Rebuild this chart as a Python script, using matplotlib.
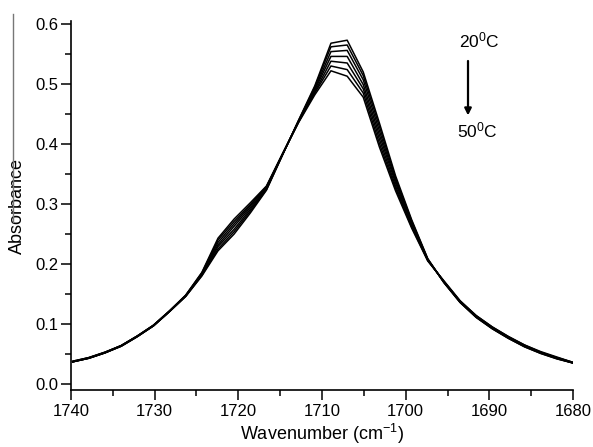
import numpy as np
import matplotlib
matplotlib.use('Agg')
import matplotlib.pyplot as plt
from matplotlib.lines import Line2D
from matplotlib.ticker import MultipleLocator

plt.rcParams['font.family'] = 'Liberation Sans'
plt.rcParams['mathtext.fontset'] = 'custom'
plt.rcParams['mathtext.rm'] = 'Liberation Sans'
plt.rcParams['mathtext.it'] = 'Liberation Sans'

# wavenumber grid (cm-1), ascending
wn = [1680.0, 1681.93, 1683.86, 1685.79, 1687.71, 1689.64, 1691.57, 1693.5,
      1695.43, 1697.36, 1699.29, 1701.21, 1703.14, 1705.07, 1706.99, 1708.93,
      1710.86, 1712.79, 1714.71, 1716.64, 1718.57, 1720.5, 1722.43, 1724.36,
      1726.29, 1728.21, 1730.14, 1732.07, 1734.0, 1735.93, 1737.86, 1739.79]

# absorbance spectra, 20 -> 50 C
t20 = [0.035, 0.042, 0.051, 0.062, 0.076, 0.092, 0.111, 0.136, 0.169, 0.209, 0.274, 0.347, 0.435, 0.520, 0.573, 0.568,
       0.497, 0.440, 0.382, 0.323, 0.285, 0.250, 0.222, 0.180, 0.146, 0.121, 0.097, 0.079, 0.063, 0.052, 0.043, 0.037]
t25 = [0.035, 0.042, 0.051, 0.062, 0.076, 0.092, 0.111, 0.136, 0.169, 0.208, 0.272, 0.343, 0.429, 0.514, 0.565, 0.562,
       0.495, 0.439, 0.382, 0.324, 0.288, 0.254, 0.225, 0.181, 0.146, 0.121, 0.097, 0.079, 0.063, 0.052, 0.043, 0.037]
t30 = [0.035, 0.043, 0.052, 0.063, 0.077, 0.093, 0.112, 0.137, 0.170, 0.208, 0.270, 0.339, 0.422, 0.507, 0.556, 0.554,
       0.492, 0.439, 0.383, 0.325, 0.291, 0.258, 0.229, 0.182, 0.147, 0.121, 0.097, 0.079, 0.063, 0.052, 0.043, 0.037]
t35 = [0.035, 0.043, 0.052, 0.063, 0.077, 0.093, 0.112, 0.137, 0.170, 0.207, 0.267, 0.335, 0.415, 0.499, 0.546, 0.546,
       0.490, 0.438, 0.383, 0.326, 0.294, 0.263, 0.232, 0.183, 0.147, 0.121, 0.097, 0.080, 0.064, 0.052, 0.043, 0.037]
t40 = [0.036, 0.044, 0.053, 0.064, 0.078, 0.094, 0.113, 0.138, 0.171, 0.206, 0.265, 0.330, 0.408, 0.492, 0.535, 0.538,
       0.487, 0.437, 0.383, 0.328, 0.297, 0.267, 0.236, 0.184, 0.147, 0.122, 0.098, 0.080, 0.064, 0.053, 0.044, 0.037]
t45 = [0.036, 0.044, 0.053, 0.065, 0.079, 0.095, 0.114, 0.138, 0.171, 0.206, 0.262, 0.326, 0.401, 0.485, 0.524, 0.530,
       0.485, 0.437, 0.384, 0.329, 0.299, 0.271, 0.240, 0.185, 0.148, 0.122, 0.098, 0.080, 0.064, 0.053, 0.044, 0.038]
t50 = [0.036, 0.045, 0.054, 0.065, 0.079, 0.095, 0.114, 0.139, 0.172, 0.205, 0.260, 0.322, 0.395, 0.478, 0.513, 0.522,
       0.482, 0.436, 0.384, 0.330, 0.302, 0.275, 0.243, 0.186, 0.148, 0.122, 0.098, 0.080, 0.064, 0.053, 0.044, 0.038]

spectra = [t20, t25, t30, t35, t40, t45, t50]

fig = plt.figure(figsize=(5.93, 4.47), dpi=100)
ax = fig.add_axes([0.1197, 0.1275, 0.8466, 0.8255])

for s in spectra:
    ax.plot(wn, s, color='black', lw=1.1)

ax.set_xlim(1740, 1680)
ax.set_ylim(-0.01, 0.605)
ax.xaxis.set_major_locator(MultipleLocator(10))
ax.xaxis.set_minor_locator(MultipleLocator(5))
ax.yaxis.set_major_locator(MultipleLocator(0.1))
ax.yaxis.set_minor_locator(MultipleLocator(0.05))
ax.yaxis.set_major_formatter(matplotlib.ticker.FormatStrFormatter('%.1f'))

ax.spines['top'].set_visible(False)
ax.spines['right'].set_visible(False)
for sp in ['left', 'bottom']:
    ax.spines[sp].set_linewidth(1.2)
ax.tick_params(which='major', direction='out', length=7, width=1.1, labelsize=12, colors='black')
ax.tick_params(which='minor', direction='out', length=4, width=1.1)
ax.tick_params(axis='x', pad=3)
ax.tick_params(axis='y', pad=2)

ax.set_xlabel('Wavenumber (cm$^{-1}$)', fontsize=13, labelpad=2)
ax.set_ylabel('Absorbance', fontsize=13, labelpad=7)

# temperature arrow
ax.text(1691.2, 0.573, '20$^0$C', fontsize=12.5, ha='center', va='center')
ax.text(1691.4, 0.422, '50$^0$C', fontsize=12.5, ha='center', va='center')
ax.annotate('', xy=(1692.55, 0.443), xytext=(1692.55, 0.543),
            arrowprops=dict(arrowstyle='-|>', color='black', lw=1.6, mutation_scale=10))

# thin rule left of the y label
fig.add_artist(Line2D([13 / 593, 13 / 593], [1 - 14 / 447, 1 - 222 / 447],
                      color='#777777', lw=1, transform=fig.transFigure))

fig.savefig('out.png', dpi=100)
